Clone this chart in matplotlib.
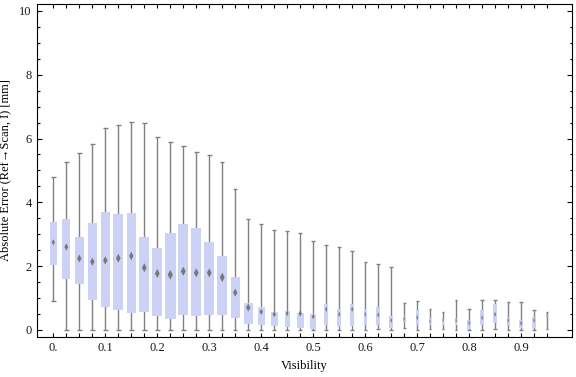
import matplotlib
matplotlib.use("Agg")
import matplotlib.pyplot as plt
from matplotlib.patches import Rectangle, Polygon
from matplotlib.ticker import FixedLocator

plt.rcParams['font.family'] = ['Liberation Serif', 'DejaVu Serif']

# ==== data ====
visibility = [0.0, 0.025, 0.05, 0.075, 0.1, 0.125, 0.15, 0.175, 0.2, 0.225,
              0.25, 0.275, 0.3, 0.325, 0.35, 0.375, 0.4, 0.425, 0.45, 0.475,
              0.5, 0.525, 0.55, 0.575, 0.6, 0.625, 0.65, 0.675, 0.7, 0.725,
              0.75, 0.775, 0.8, 0.825, 0.85, 0.875, 0.9, 0.925, 0.95]
whisker_hi = [4.79, 5.26, 5.54, 5.82, 6.32, 6.43, 6.51, 6.48, 6.04, 5.88,
              5.76, 5.57, 5.48, 5.26, 4.41, 3.47, 3.31, 3.12, 3.09, 3.03,
              2.78, 2.65, 2.59, 2.47, 2.12, 2.07, 1.97, 0.85, 0.90, 0.65,
              0.56, 0.93, 0.65, 0.93, 0.93, 0.87, 0.87, 0.62, 0.55]
q3 = [3.39, 3.48, 2.92, 3.35, 3.70, 3.63, 3.67, 2.92, 2.57, 3.04,
      3.31, 3.20, 2.76, 2.32, 1.66, 0.84, 0.72, 0.56, 0.60, 0.54,
      0.50, 0.82, 0.66, 0.82, 0.66, 0.72, 0.44, 0.45, 0.61, 0.36,
      0.39, 0.39, 0.31, 0.62, 0.81, 0.40, 0.32, 0.40, 0.51]
median = [2.75, 2.60, 2.24, 2.14, 2.18, 2.25, 2.32, 1.95, 1.77, 1.73,
          1.84, 1.79, 1.79, 1.65, 1.17, 0.70, 0.57, 0.49, 0.52, 0.52,
          0.42, 0.65, 0.49, 0.65, 0.49, 0.47, 0.30, 0.35, 0.39, 0.27,
          0.32, 0.30, 0.22, 0.38, 0.49, 0.30, 0.21, 0.30, 0.46]
q1 = [2.05, 1.60, 1.45, 0.94, 0.73, 0.61, 0.54, 0.56, 0.44, 0.34,
      0.47, 0.44, 0.47, 0.47, 0.39, 0.20, 0.16, 0.13, 0.09, 0.07,
      0.04, 0.14, 0.08, 0.13, 0.16, 0.17, 0.07, 0.26, 0.17, 0.17,
      0.17, 0.17, 0.04, 0.14, 0.23, 0.17, 0.07, 0.07, 0.40]
whisker_lo = [0.90, 0, 0, 0, 0, 0, 0, 0, 0, 0,
              0, 0, 0, 0, 0, 0, 0, 0, 0, 0,
              0, 0, 0, 0, 0, 0.03, 0, 0.05, 0, 0.02,
              0.04, 0, 0, 0, 0.02, 0, 0, 0, 0.03]
# relative box widths (sample weight), in pixels of the reference
box_px = [6.7, 8, 9, 9.2, 9.3, 9.7, 9.3, 10, 10, 10.7,
          10.3, 10, 10, 10.3, 9, 9, 7, 6.7, 5.3, 7,
          5.7, 4.3, 4.3, 4.3, 3.3, 4, 3.5, 3, 3.3, 2.3,
          2.3, 2.7, 3.3, 3.3, 3.7, 3, 4, 3.3, 2.3]
x_ticklabels = ["0.", "0.1", "0.2", "0.3", "0.4", "0.5", "0.6", "0.7", "0.8", "0.9"]
y_ticks = [0, 2, 4, 6, 8, 10]
y_minor = [v * 0.5 for v in range(21)]

box_color = "#cbd2f5"
line_color = "#808080"
dia_color = "#787878"

fig = plt.figure(figsize=(5.76, 3.77), dpi=100)
ax = fig.add_axes([0.0637, 0.107, 0.929, 0.8818])
ax.set_xlim(-0.032, 0.9975)
ax.set_ylim(-0.21, 10.21)

ux = 0.1 / 52.0    # data units per pixel (x)
uy = 1.0 / 31.9    # data units per pixel (y)

for x, lo, a, m, b, hi, wp in zip(visibility, whisker_lo, q1, median, q3, whisker_hi, box_px):
    w = wp * ux
    cw = min(4.5, wp) * ux
    ax.vlines(x, lo, hi, color=line_color, lw=1.0, zorder=1)
    ax.hlines([lo, hi], x - cw / 2, x + cw / 2, color=line_color, lw=1.0, zorder=1)
    ax.add_patch(Rectangle((x - w / 2, a), w, b - a, facecolor=box_color,
                           edgecolor="none", zorder=2))
    dw = 0.24 * w
    dh = max(0.45 * wp, 2.8) * uy
    ax.add_patch(Polygon([(x - dw, m), (x, m + dh), (x + dw, m), (x, m - dh)],
                         closed=True, facecolor=dia_color, edgecolor="none", zorder=3))

ax.yaxis.set_major_locator(FixedLocator(y_ticks))
ax.yaxis.set_minor_locator(FixedLocator([v for v in y_minor if v not in y_ticks]))
ax.set_yticklabels([str(v) for v in y_ticks])
ax.xaxis.set_major_locator(FixedLocator(visibility))
ax.set_xticklabels([x_ticklabels[i // 4] if i % 4 == 0 else "" for i in range(len(visibility))])

ax.tick_params(axis="both", which="both", direction="in", top=True, right=True,
               color="black", width=0.8, labelsize=9, labelcolor="#1a1a1a")
ax.tick_params(axis="y", which="major", length=3.3, pad=3.5)
ax.tick_params(axis="y", which="minor", length=1.8)
ax.tick_params(axis="x", which="major", length=3.0, pad=3.5)
for s in ax.spines.values():
    s.set_linewidth(0.8)

ax.set_xlabel("Visibility", fontsize=9, labelpad=5)
ax.set_ylabel("Absolute Error (Ref\u2192Scan, I) [mm]", fontsize=9, labelpad=6)

fig.savefig("out.png", dpi=100)
